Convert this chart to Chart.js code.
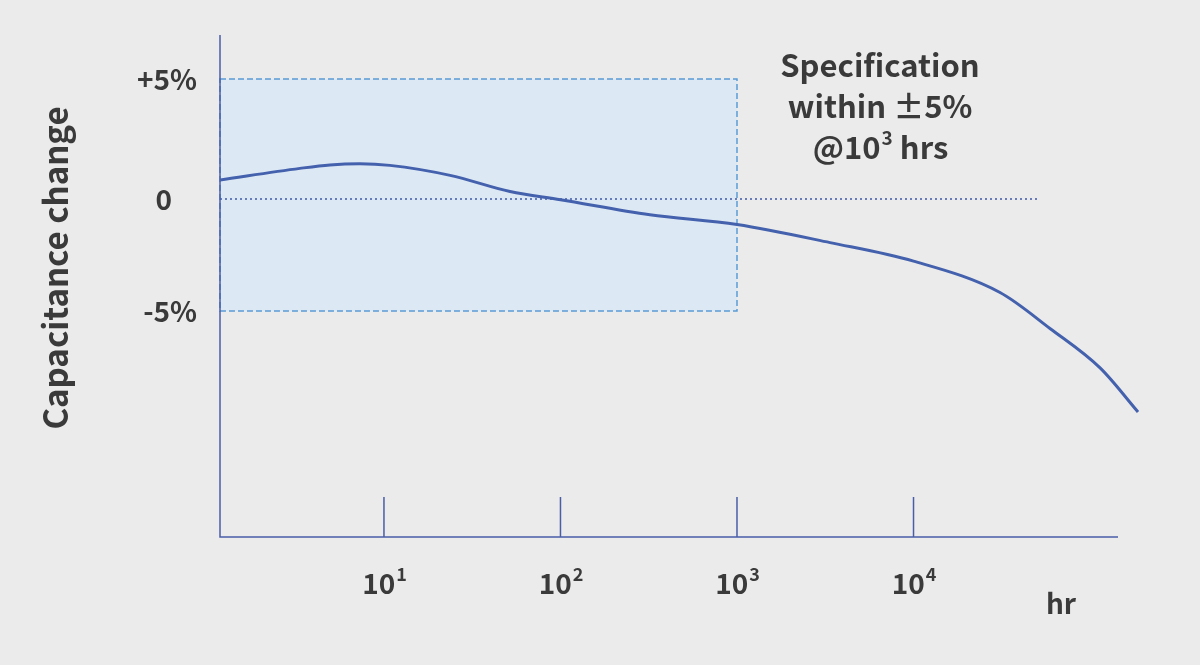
<!DOCTYPE html>
<html>
<head>
<meta charset="utf-8">
<script src="https://cdn.jsdelivr.net/npm/chart.js@4"></script>
<style>
  body { margin: 0; background: #ebebeb; }
  #wrap { width: 1200px; height: 665px; }
</style>
</head>
<body>
<div id="wrap"><canvas id="c"></canvas></div>
<script>
// data (hours, % capacitance change)
var hours  = [1.18, 3.34, 4.94, 7.3, 10.8, 23.7, 51.8, 100, 321, 1000, 3365, 10000, 30900, 59300, 114000, 187000];
var change = [0.65, 1.15, 1.3, 1.35, 1.28, 0.85, 0.15, -0.2, -0.85, -1.27, -2.05, -2.85, -4.2, -5.75, -7.45, -9.35];
var xTicks = [10, 100, 1000, 10000];
var xTickLabels = ['1', '2', '3', '4'];
var yTicks = [5, 0, -5];
var yTickLabels = ['+5%', '0', '-5%'];
var specHours = 1000;
var specLimit = 5;

var FONT = '"Noto Sans CJK JP", "Noto Sans", sans-serif';
var TEXT = '#3a3a3a';
var AXIS = '#4a5ea8';

var overlay = {
  id: 'overlay',
  beforeDatasetsDraw: function(chart) {
    var ctx = chart.ctx, x = chart.scales.x, y = chart.scales.y;
    var x0 = chart.chartArea.left, x1 = x.getPixelForValue(specHours);
    var yt = y.getPixelForValue(specLimit), yb = y.getPixelForValue(-specLimit);
    ctx.save();
    ctx.fillStyle = '#dde8f5';
    ctx.fillRect(x0, yt, x1 - x0, yb - yt);
    ctx.strokeStyle = '#5b9bd5';
    ctx.lineWidth = 1.5;
    ctx.setLineDash([6, 3]);
    ctx.strokeRect(x0, yt, x1 - x0, yb - yt);
    // zero line
    ctx.strokeStyle = '#3e5aa8';
    ctx.setLineDash([2, 3]);
    ctx.beginPath();
    ctx.moveTo(x0, 199);
    ctx.lineTo(1037, 199);
    ctx.stroke();
    ctx.restore();
  },
  afterDraw: function(chart) {
    var ctx = chart.ctx, x = chart.scales.x, y = chart.scales.y;
    var a = chart.chartArea;
    ctx.save();
    ctx.strokeStyle = AXIS;
    ctx.lineWidth = 1.5;
    ctx.beginPath();
    ctx.moveTo(a.left, a.top);
    ctx.lineTo(a.left, a.bottom);
    ctx.lineTo(1118, a.bottom);
    xTicks.forEach(function(v) {
      var px = x.getPixelForValue(v);
      ctx.moveTo(px, a.bottom);
      ctx.lineTo(px, a.bottom - 40);
    });
    ctx.stroke();

    ctx.fillStyle = TEXT;
    ctx.textBaseline = 'middle';
    // x tick labels
    xTicks.forEach(function(v, i) {
      var px = x.getPixelForValue(v);
      ctx.font = 'bold 28px ' + FONT;
      var w = ctx.measureText('10').width;
      ctx.font = 'bold 18px ' + FONT;
      var w2 = ctx.measureText(xTickLabels[i]).width;
      var sx = px - (w + w2) / 2;
      ctx.font = 'bold 28px ' + FONT;
      ctx.textAlign = 'left';
      ctx.fillText('10', sx, 583);
      ctx.font = 'bold 18px ' + FONT;
      ctx.fillText(xTickLabels[i], sx + w + 1, 574);
    });
    ctx.font = 'bold 28px ' + FONT;
    ctx.textAlign = 'center';
    ctx.fillText('hr', 1061, 603);
    // y tick labels
    ctx.textAlign = 'right';
    yTicks.forEach(function(v, i) {
      ctx.fillText(yTickLabels[i], i === 1 ? 172 : 197, i === 1 ? 199 : y.getPixelForValue(v));
    });
    // y title
    ctx.save();
    ctx.translate(55, 268);
    ctx.rotate(-Math.PI / 2);
    ctx.textAlign = 'center';
    ctx.font = 'bold 33px ' + FONT;
    ctx.fillText('Capacitance change', 0, 0);
    ctx.restore();
    // spec note
    ctx.textAlign = 'center';
    ctx.font = 'bold 31px ' + FONT;
    ctx.fillText('Specification', 880, 65);
    ctx.fillText('within \u00b15%', 880, 106);
    var t1 = '@10', t2 = ' hrs';
    var w1 = ctx.measureText(t1).width, w3 = ctx.measureText(t2).width;
    ctx.font = 'bold 19px ' + FONT;
    var ws = ctx.measureText('3').width;
    var sx = 880 - (w1 + ws + w3) / 2;
    ctx.textAlign = 'left';
    ctx.font = 'bold 31px ' + FONT;
    ctx.fillText(t1, sx, 147);
    ctx.fillText(t2, sx + w1 + ws + 1, 147);
    ctx.font = 'bold 19px ' + FONT;
    ctx.fillText('3', sx + w1 + 1, 138);
    ctx.restore();
  }
};

new Chart(document.getElementById('c'), {
  type: 'line',
  data: {
    datasets: [{
      data: hours.map(function(h, i) { return { x: h, y: change[i] }; }),
      borderColor: '#4461ad',
      borderWidth: 3,
      pointRadius: 0,
      tension: 0.4,
      cubicInterpolationMode: 'monotone'
    }]
  },
  options: {
    responsive: true,
    maintainAspectRatio: false,
    animation: false,
    layout: { padding: { left: 220, right: 60, top: 35, bottom: 128 } },
    plugins: { legend: { display: false }, tooltip: { enabled: false } },
    scales: {
      x: { type: 'logarithmic', min: 1.178, max: 191900, display: false },
      y: { type: 'linear', min: -14.74, max: 6.9, display: false }
    }
  },
  plugins: [overlay]
});
</script>
</body>
</html>
